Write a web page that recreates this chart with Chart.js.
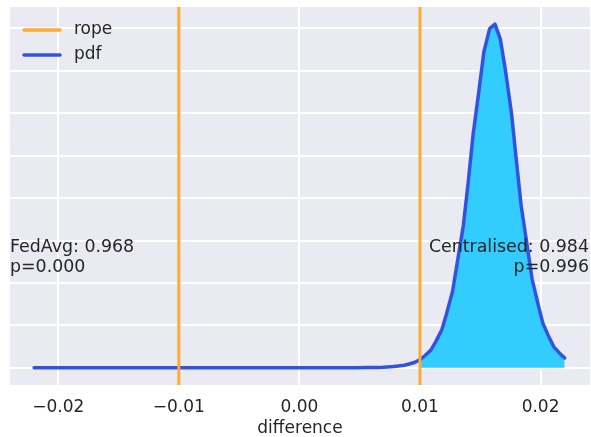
<!DOCTYPE html>
<html>
<head>
<meta charset="utf-8">
<title>rope / pdf</title>
<script src="https://cdn.jsdelivr.net/npm/chart.js@4.4.0/dist/chart.umd.min.js"></script>
<style>
  html, body { margin: 0; padding: 0; background: #ffffff; }
  #wrap { width: 591px; height: 437px; position: relative; }
</style>
</head>
<body>
<div id="wrap"><canvas id="chart"></canvas></div>
<script>
// données
const X_PDF = [-0.022, -0.016, -0.01, -0.005, 0.0, 0.0024, 0.0047, 0.0056, 0.0064, 0.0069,
  0.0073, 0.0078, 0.0082, 0.0087, 0.0091, 0.0096, 0.01, 0.0104, 0.0109, 0.0113,
  0.0118, 0.0122, 0.0127, 0.0131, 0.0136, 0.014, 0.0144, 0.0149, 0.0153, 0.01578,
  0.01622, 0.01667, 0.0171, 0.0176, 0.018, 0.0184, 0.0189, 0.0193, 0.0198, 0.0202,
  0.0207, 0.0211, 0.0216, 0.022];
const Y_PDF = [0, 0, 0, 0, 0.004, 0.017, 0.07, 0.14, 0.26, 0.37,
  0.53, 0.75, 1.08, 1.56, 2.27, 3.31, 4.85, 7.13, 10.45, 15.3,
  22.2, 31.8, 45.0, 62.3, 84.0, 109.4, 137.0, 163.9, 186.1, 199.9,
  202.5, 193.5, 174.7, 149.4, 121.7, 95.0, 71.5, 52.3, 37.3, 26.1,
  18.1, 12.4, 8.5, 5.8];
const ROPE = [-0.01, 0.01];
const SERIES_LABELS = ["rope", "pdf"];
const X_TICKS = [-0.02, -0.01, 0, 0.01, 0.02];
const X_TICK_LABELS = ["\u22120.02", "\u22120.01", "0.00", "0.01", "0.02"];
const Y_GRID = [0, 25, 50, 75, 100, 125, 150, 175, 200];
const X_RANGE = [-0.024, 0.0241];
const Y_RANGE = [-10.1, 212.6];
const X_TITLE = "difference";
const NOTE_LEFT = ["FedAvg: 0.968", "p=0.000"];
const NOTE_RIGHT = ["Centralised: 0.984", "p=0.996"];
const NOTE_Y = 68;

const FONT = "'DejaVu Sans', sans-serif";
const TEXT_COLOR = "#262626";
const ORANGE = "#fbab36";
const BLUE = "#3253e0";
const CYAN = "#33ccff";

const pdfPoints = X_PDF.map((x, i) => ({ x: x, y: Y_PDF[i] }));
const fillPoints = pdfPoints.filter(p => p.x >= ROPE[1]);

function ropeLine(x) {
  return [{ x: x, y: Y_RANGE[0] }, { x: x, y: Y_RANGE[1] }];
}

// fond gris du graphique
const bgPlugin = {
  id: "bg",
  beforeDraw(chart) {
    const { ctx, chartArea: a } = chart;
    ctx.save();
    ctx.fillStyle = "#eaeaf2";
    ctx.fillRect(a.left, a.top, a.right - a.left, a.bottom - a.top);
    ctx.restore();
  }
};

// légende + textes FedAvg / Centralised
const notesPlugin = {
  id: "notes",
  afterDatasetsDraw(chart) {
    const { ctx, chartArea: a, scales } = chart;
    ctx.save();
    ctx.font = "17.4px " + FONT;
    ctx.fillStyle = TEXT_COLOR;
    ctx.textBaseline = "alphabetic";
    const y0 = scales.y.getPixelForValue(NOTE_Y);
    ctx.textAlign = "left";
    NOTE_LEFT.forEach((t, i) => ctx.fillText(t, a.left, y0 + i * 20));
    ctx.textAlign = "right";
    NOTE_RIGHT.forEach((t, i) => ctx.fillText(t, a.right - 1, y0 + i * 20));

    // légende
    const colors = [ORANGE, BLUE];
    ctx.font = "17px " + FONT;
    ctx.textAlign = "left";
    ctx.textBaseline = "middle";
    SERIES_LABELS.forEach((lab, i) => {
      const ly = a.top + 23 + i * 25;
      ctx.strokeStyle = colors[i];
      ctx.lineWidth = 3.5;
      ctx.lineCap = "round";
      ctx.beginPath();
      ctx.moveTo(a.left + 14, ly);
      ctx.lineTo(a.left + 50, ly);
      ctx.stroke();
      ctx.fillText(lab, a.left + 64, ly);
    });
    ctx.restore();
  }
};

new Chart(document.getElementById("chart"), {
  type: "line",
  data: {
    datasets: [
      {
        label: SERIES_LABELS[0],
        data: ropeLine(ROPE[0]),
        borderColor: ORANGE,
        borderWidth: 3,
        pointRadius: 0,
        fill: false
      },
      {
        label: SERIES_LABELS[0] + " ",
        data: ropeLine(ROPE[1]),
        borderColor: ORANGE,
        borderWidth: 3,
        pointRadius: 0,
        fill: false
      },
      {
        label: SERIES_LABELS[1],
        data: pdfPoints,
        borderColor: BLUE,
        borderWidth: 3.5,
        borderCapStyle: "round",
        borderJoinStyle: "round",
        pointRadius: 0,
        tension: 0,
        fill: false
      },
      {
        label: "area",
        data: fillPoints,
        borderWidth: 0,
        borderColor: CYAN,
        backgroundColor: CYAN,
        pointRadius: 0,
        tension: 0,
        fill: "origin"
      }
    ]
  },
  options: {
    responsive: true,
    maintainAspectRatio: false,
    animation: false,
    devicePixelRatio: 1,
    layout: { padding: { left: 10, top: 7, right: 1, bottom: 0 } },
    scales: {
      x: {
        type: "linear",
        min: X_RANGE[0],
        max: X_RANGE[1],
        afterBuildTicks: axis => { axis.ticks = X_TICKS.map(v => ({ value: v })); },
        afterFit: axis => { axis.height = 52; },
        grid: { color: "#ffffff", lineWidth: 2, drawTicks: false },
        border: { display: false },
        ticks: {
          padding: 12.5,
          color: TEXT_COLOR,
          font: { family: FONT, size: 17 },
          callback: (v, i) => X_TICK_LABELS[i]
        },
        title: {
          display: true,
          text: X_TITLE,
          color: TEXT_COLOR,
          font: { family: FONT, size: 17, lineHeight: 1.0 },
          padding: { top: 0, bottom: 0 }
        }
      },
      y: {
        type: "linear",
        min: Y_RANGE[0],
        max: Y_RANGE[1],
        afterBuildTicks: axis => { axis.ticks = Y_GRID.map(v => ({ value: v })); },
        grid: { color: "#ffffff", lineWidth: 2, drawTicks: false },
        border: { display: false },
        ticks: { display: false }
      }
    },
    plugins: {
      legend: { display: false },
      tooltip: { enabled: false }
    }
  },
  plugins: [bgPlugin, notesPlugin]
});
</script>
</body>
</html>
